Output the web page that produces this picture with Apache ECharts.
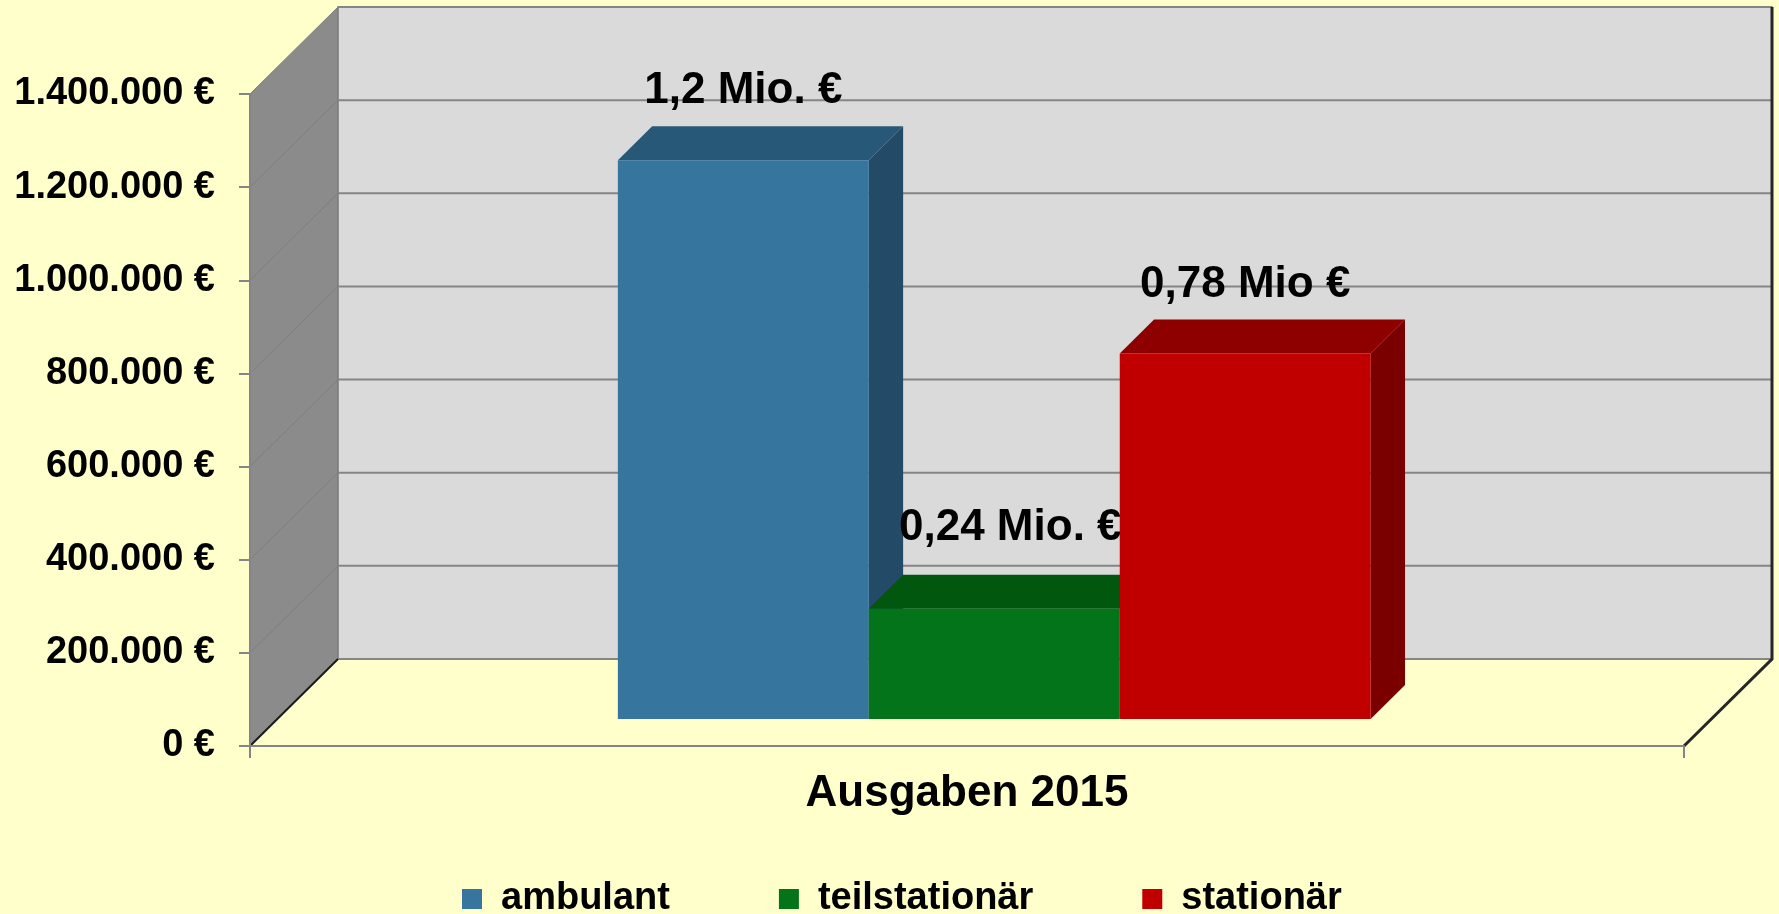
<!DOCTYPE html>
<html>
<head>
<meta charset="utf-8">
<title>Ausgaben 2015</title>
<script src="https://cdn.jsdelivr.net/npm/echarts@6/dist/echarts.min.js"></script>
<style>
  html, body { margin: 0; padding: 0; background: #ffffcc; }
  #chart { width: 1779px; height: 914px; }
</style>
</head>
<body>
<div id="chart"></div>
<script>
// chart data
const categories = ["Ausgaben 2015"];
const seriesNames = ["ambulant", "teilstationär", "stationär"];
const values = [1200000, 237000, 785000];
const valueLabels = ["1,2 Mio. €", "0,24 Mio. €", "0,78 Mio €"];
const yTicks = [0, 200000, 400000, 600000, 800000, 1000000, 1200000, 1400000];

// look of the 3d box
const font = "'Liberation Sans', Arial, Helvetica, sans-serif";
const depthX = 88;
const depthY = 87;
const barFront = 0.31; // bars sit in the middle of the depth
const barBack = 0.70;
const barShare = 0.175; // one bar = this part of the category band
const colors = [
  { front: "#36769e", top: "#285878", side: "#234a66" },
  { front: "#037419", top: "#02570f", side: "#024d0e" },
  { front: "#c00000", top: "#8e0000", side: "#7a0000" }
];
// the middle label sits a bit off in the original
const labelNudge = [[0, 0], [16, -12], [0, 0]];

function euro(v) {
  return String(v).replace(/\B(?=(\d{3})+(?!\d))/g, ".") + " €";
}

const chart = echarts.init(document.getElementById("chart"));

function renderWalls(params, api) {
  const cs = params.coordSys;
  const v = api.value(1);
  const p = api.coord([0, v]);
  const left = cs.x;
  const right = cs.x + cs.width;
  const bottom = cs.y + cs.height;
  const top = cs.y;
  const children = [];
  if (params.dataIndex === 0) {
    // left wall
    children.push({
      type: "polygon",
      z2: 0,
      shape: { points: [[left, top], [left + depthX, top - depthY], [left + depthX, bottom - depthY], [left, bottom]] },
      style: { fill: "#8b8b8b" }
    });
    // back wall
    children.push({
      type: "rect",
      z2: 0,
      shape: { x: left + depthX, y: top - depthY, width: cs.width, height: cs.height },
      style: { fill: "#dadada", stroke: "#7a7a7a", lineWidth: 1.5 }
    });
    // floor
    children.push({
      type: "polygon",
      z2: 0,
      shape: { points: [[left, bottom], [left + depthX, bottom - depthY], [right + depthX, bottom - depthY], [right, bottom]] },
      style: { fill: "#ffffcc" }
    });
    // dark edges
    children.push({
      type: "polyline",
      z2: 3,
      shape: { points: [[left, bottom], [left + depthX, bottom - depthY]] },
      style: { stroke: "#1a1a1a", lineWidth: 2, fill: null }
    });
    children.push({
      type: "polyline",
      z2: 3,
      shape: { points: [[right, bottom], [right + depthX, bottom - depthY], [right + depthX, top - depthY]] },
      style: { stroke: "#262626", lineWidth: 3, fill: null }
    });
  }
  // grid line on the back wall
  children.push({
    type: "line",
    z2: 2,
    shape: { x1: left + depthX, y1: p[1] - depthY, x2: right + depthX, y2: p[1] - depthY },
    style: { stroke: "#858585", lineWidth: 2 }
  });
  // grid line on the left wall
  if (v > 0) {
    children.push({
      type: "line",
      z2: 1,
      shape: { x1: left, y1: p[1], x2: left + depthX, y2: p[1] - depthY },
      style: { stroke: "#7e7e7e", lineWidth: 1 }
    });
  }
  return { type: "group", children: children };
}

function renderBar(params, api) {
  const i = params.seriesIndex - 1;
  const c = api.coord([api.value(0), api.value(1)]);
  const base = api.coord([api.value(0), 0]);
  const band = api.size([1, 0])[0];
  const barW = band * barShare;
  const x0 = c[0] - 1.5 * barW + i * barW;
  const x1 = x0 + barW;
  const fx = depthX * barFront, fy = -depthY * barFront;
  const bx = depthX * barBack, by = -depthY * barBack;
  const col = colors[i];
  return {
    type: "group",
    children: [
      {
        type: "polygon",
        shape: { points: [[x1 + fx, c[1] + fy], [x1 + bx, c[1] + by], [x1 + bx, base[1] + by], [x1 + fx, base[1] + fy]] },
        style: { fill: col.side }
      },
      {
        type: "polygon",
        shape: { points: [[x0 + fx, c[1] + fy], [x1 + fx, c[1] + fy], [x1 + bx, c[1] + by], [x0 + bx, c[1] + by]] },
        style: { fill: col.top }
      },
      {
        type: "rect",
        shape: { x: x0 + fx, y: c[1] + fy, width: barW, height: base[1] - c[1] },
        style: { fill: col.front }
      },
      {
        type: "text",
        x: (x0 + x1) / 2 + fx + labelNudge[i][0],
        y: c[1] + by - 35 + labelNudge[i][1],
        style: {
          text: valueLabels[i],
          fill: "#000",
          font: "bold 44px " + font,
          align: "center",
          verticalAlign: "middle"
        }
      }
    ]
  };
}

const series = [
  {
    type: "custom",
    name: "walls",
    z: 1,
    clip: false,
    silent: true,
    renderItem: renderWalls,
    encode: { x: 0, y: 1 },
    data: yTicks.map(v => [0, v])
  }
];
seriesNames.forEach((name, i) => {
  series.push({
    type: "custom",
    name: name,
    z: 2,
    clip: false,
    renderItem: renderBar,
    itemStyle: { color: colors[i].front },
    encode: { x: 0, y: 1 },
    data: [[0, values[i]]]
  });
});

chart.setOption({
  backgroundColor: "#ffffcc",
  animation: false,
  textStyle: { fontFamily: font },
  grid: { left: 250, right: 95, top: 94, bottom: 168 },
  legend: {
    data: seriesNames,
    left: 457,
    top: 875,
    icon: "rect",
    itemWidth: 20,
    itemHeight: 20,
    itemGap: 109,
    textStyle: { fontSize: 38, fontWeight: "bold", color: "#000", fontFamily: font, padding: [0, 0, 0, 14] }
  },
  xAxis: {
    type: "category",
    data: categories,
    z: 5,
    axisLine: { lineStyle: { color: "#858585", width: 2 } },
    axisTick: { show: true, length: 12, lineStyle: { color: "#858585", width: 2 } },
    axisLabel: { margin: 26, fontSize: 44, fontWeight: "bold", color: "#000", fontFamily: font },
    splitLine: { show: false }
  },
  yAxis: {
    type: "value",
    min: 0,
    max: yTicks[yTicks.length - 1],
    interval: yTicks[1] - yTicks[0],
    z: 5,
    axisLine: { show: true, lineStyle: { color: "#858585", width: 2 } },
    axisTick: { show: true, length: 11, lineStyle: { color: "#858585", width: 2 } },
    axisLabel: { margin: 35, fontSize: 38, fontWeight: "bold", color: "#000", fontFamily: font, formatter: euro },
    splitLine: { show: false }
  },
  series: series
});
</script>
</body>
</html>
